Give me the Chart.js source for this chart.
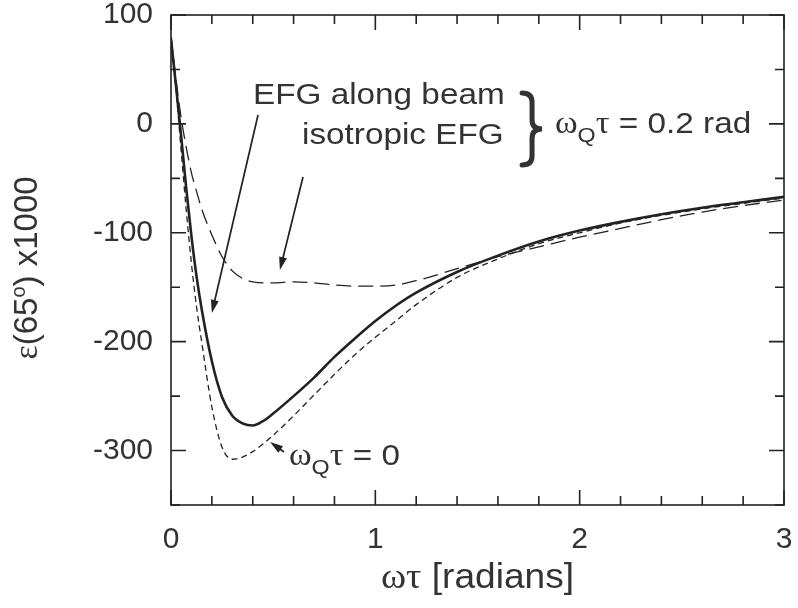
<!DOCTYPE html>
<html>
<head>
<meta charset="utf-8">
<title>Anisotropy vs ωτ</title>
<script src="https://cdn.jsdelivr.net/npm/chart.js@4.4.1/dist/chart.umd.min.js"></script>
<style>
    html, body { margin: 0; padding: 0; background: #fff; }
    #wrap { width: 798px; height: 608px; }
</style>
</head>
<body>
<div id="wrap"><canvas id="chart" width="798" height="608"></canvas></div>
<script>
// Sample positions along ωτ (radians), shared by the three curves
const omegaTau = [0, 0.025, 0.05, 0.075, 0.1, 0.125, 0.15, 0.2, 0.25, 0.3, 0.35, 0.4, 0.45, 0.5, 0.6, 0.7,
    0.8, 0.9, 1.0, 1.1, 1.2, 1.4, 1.6, 1.8, 2.0, 2.2, 2.4, 2.6, 2.8, 3.0];

// ε(65°) x1000, EFG along beam, ωQτ = 0.2 rad (solid)
const efgAlongBeam = [78, 34, -12, -60, -103, -140, -170, -218, -251, -268, -275, -277, -273, -266, -250, -233,
    -214, -197, -181, -167, -155, -136, -121, -108, -98, -90, -83, -77, -72, -67];

// isotropic EFG, ωQτ = 0.2 rad (long dashes)
const isotropicEfg = [80, 40, 5, -22, -45, -62, -78, -102, -122, -135, -142, -145, -146, -146, -145, -146,
    -148, -149, -149, -148, -144, -133, -122, -113, -104, -96, -88, -81, -75, -70];

// no quadrupole interaction, ωQτ = 0 (short dashes)
const noQuadrupole = [80, 30, -25, -80, -128, -168, -200, -260, -297, -308, -306, -301, -294, -286, -268, -249,
    -230, -212, -196, -181, -166, -141, -124, -110, -100, -91, -84, -78, -73, -68];

const xTickValues = [0, 1, 2, 3];
const yTickValues = [-300, -200, -100, 0, 100];
const xRange = [0, 3];
const yRange = [-350, 100];
const xMinorStep = 0.2;
const yMinorStep = 50;

const SANS = 'Liberation Sans, Arial, sans-serif';
const SERIF = 'Liberation Serif, Times New Roman, serif';
const INK = '#222';
const TEXT = '#333';

function toPoints(values) {
    return values.map((y, i) => ({ x: omegaTau[i], y: y }));
}

// Text pieces: sans for words/digits, serif for the Greek symbols
function run(text, size, family, dy) {
    return { text: text, size: size, family: family || SANS, dy: dy || 0 };
}

function omegaQTau(rest) {
    return [run('ω', 31, SERIF), run('Q', 21, SANS, 9), run('τ', 31, SERIF), run(rest, 30)];
}

// Annotations are placed in data coordinates
const notes = [
    { x: 0.401, y: 18.3, runs: [run('EFG along beam', 30)] },
    { x: 0.641, y: -18.5, runs: [run('isotropic EFG', 30)] },
    { x: 1.879, y: -8.4, runs: omegaQTau(' = 0.2 rad') },
    { x: 0.577, y: -313.3, runs: omegaQTau(' = 0') }
];

const arrows = [
    { from: [0.426, 8.2], to: [0.2, -173.6] },
    { from: [0.646, -48.8], to: [0.533, -134.2] },
    { from: [0.553, -301.3], to: [0.485, -292.1] }
];

const brace = { x0: 1.718, x1: 1.816, yTop: 28.4, yBottom: -37.7 };

function runsWidth(ctx, runs) {
    let w = 0;
    runs.forEach(r => {
        ctx.font = r.size + 'px ' + r.family;
        w += ctx.measureText(r.text).width;
    });
    return w;
}

function drawRuns(ctx, runs, x, y, stretch) {
    ctx.save();
    ctx.translate(x, y);
    ctx.scale(stretch, 1);
    ctx.fillStyle = TEXT;
    ctx.textBaseline = 'alphabetic';
    ctx.textAlign = 'left';
    let cx = 0;
    runs.forEach(r => {
        ctx.font = r.size + 'px ' + r.family;
        ctx.fillText(r.text, cx, r.dy);
        cx += ctx.measureText(r.text).width;
    });
    ctx.restore();
}

function drawArrow(ctx, x1, y1, x2, y2) {
    const ang = Math.atan2(y2 - y1, x2 - x1);
    const headLen = 13, headHalf = 4;
    ctx.beginPath();
    ctx.moveTo(x1, y1);
    ctx.lineTo(x2 - Math.cos(ang) * headLen * 0.8, y2 - Math.sin(ang) * headLen * 0.8);
    ctx.stroke();
    ctx.beginPath();
    ctx.moveTo(x2, y2);
    ctx.lineTo(x2 - Math.cos(ang) * headLen - Math.sin(ang) * headHalf,
               y2 - Math.sin(ang) * headLen + Math.cos(ang) * headHalf);
    ctx.lineTo(x2 - Math.cos(ang) * headLen + Math.sin(ang) * headHalf,
               y2 - Math.sin(ang) * headLen - Math.cos(ang) * headHalf);
    ctx.closePath();
    ctx.fill();
}

// Frame with inward ticks on all four sides, plus notes and axis titles
const decorPlugin = {
    id: 'decor',
    afterDraw(chart) {
        const ctx = chart.ctx;
        const area = chart.chartArea;
        const xs = chart.scales.x;
        const ys = chart.scales.y;
        const major = 15, minor = 9;

        ctx.save();
        ctx.strokeStyle = INK;
        ctx.fillStyle = INK;
        ctx.lineWidth = 1.6;
        ctx.strokeRect(area.left, area.top, area.right - area.left, area.bottom - area.top);

        ctx.beginPath();
        for (let v = xRange[0]; v <= xRange[1] + 1e-9; v += xMinorStep) {
            const val = Math.round(v * 10) / 10;
            const len = xTickValues.includes(val) ? major : minor;
            const px = xs.getPixelForValue(val);
            ctx.moveTo(px, area.bottom); ctx.lineTo(px, area.bottom - len);
            ctx.moveTo(px, area.top); ctx.lineTo(px, area.top + len);
        }
        for (let v = yRange[0]; v <= yRange[1]; v += yMinorStep) {
            const len = yTickValues.includes(v) ? major : minor;
            const py = ys.getPixelForValue(v);
            ctx.moveTo(area.left, py); ctx.lineTo(area.left + len, py);
            ctx.moveTo(area.right, py); ctx.lineTo(area.right - len, py);
        }
        ctx.stroke();

        // arrows pointing at the curves
        ctx.lineWidth = 1.7;
        arrows.forEach(a => {
            drawArrow(ctx,
                xs.getPixelForValue(a.from[0]), ys.getPixelForValue(a.from[1]),
                xs.getPixelForValue(a.to[0]), ys.getPixelForValue(a.to[1]));
        });

        // brace grouping the two ωQτ = 0.2 rad labels
        const bl = xs.getPixelForValue(brace.x0), br = xs.getPixelForValue(brace.x1);
        const bt = ys.getPixelForValue(brace.yTop), bb = ys.getPixelForValue(brace.yBottom);
        const bm = (bl + br) / 2, bym = (bt + bb) / 2;
        ctx.lineWidth = 5;
        ctx.lineCap = 'round';
        ctx.strokeStyle = '#333';
        ctx.beginPath();
        ctx.moveTo(bl, bt);
        ctx.quadraticCurveTo(bm, bt, bm, bt + 9);
        ctx.lineTo(bm, bym - 9);
        ctx.quadraticCurveTo(bm, bym, br, bym);
        ctx.quadraticCurveTo(bm, bym, bm, bym + 9);
        ctx.lineTo(bm, bb - 9);
        ctx.quadraticCurveTo(bm, bb, bl, bb);
        ctx.stroke();
        ctx.restore();

        notes.forEach(n => {
            drawRuns(ctx, n.runs, xs.getPixelForValue(n.x), ys.getPixelForValue(n.y), 1.11);
        });

        // x axis title
        const xTitle = [run('ωτ', 36, SERIF), run(' [radians]', 35)];
        const xw = runsWidth(ctx, xTitle) * 1.06;
        drawRuns(ctx, xTitle, (area.left + area.right) / 2 - xw / 2, area.bottom + 83, 1.06);

        // y axis title, rotated
        const yTitle = [run('ε', 34, SERIF), run('(65', 33), run('o', 20, SANS, -12), run(') x1000', 33)];
        const yw = runsWidth(ctx, yTitle);
        ctx.save();
        ctx.translate(37, (area.top + area.bottom) / 2 + 8);
        ctx.rotate(-Math.PI / 2);
        drawRuns(ctx, yTitle, -yw / 2, 0, 1);
        ctx.restore();
    }
};

const ctx = document.getElementById('chart').getContext('2d');

new Chart(ctx, {
    type: 'line',
    data: {
        datasets: [
            {
                label: 'EFG along beam',
                data: toPoints(efgAlongBeam),
                borderColor: INK,
                borderWidth: 2.6,
                pointRadius: 0,
                cubicInterpolationMode: 'monotone',
                fill: false
            },
            {
                label: 'isotropic EFG',
                data: toPoints(isotropicEfg),
                borderColor: INK,
                borderWidth: 1.3,
                borderDash: [15, 7],
                pointRadius: 0,
                cubicInterpolationMode: 'monotone',
                fill: false
            },
            {
                label: 'ωQτ = 0',
                data: toPoints(noQuadrupole),
                borderColor: INK,
                borderWidth: 1.3,
                borderDash: [6, 4],
                pointRadius: 0,
                cubicInterpolationMode: 'monotone',
                fill: false
            }
        ]
    },
    options: {
        responsive: false,
        animation: false,
        layout: { padding: { top: 15, right: 14, left: 0, bottom: 0 } },
        plugins: {
            legend: { display: false },
            tooltip: { enabled: false }
        },
        scales: {
            x: {
                type: 'linear',
                min: xRange[0],
                max: xRange[1],
                grid: { display: false, drawTicks: false },
                border: { display: false },
                ticks: {
                    font: { family: SANS, size: 30 },
                    color: TEXT,
                    padding: 17,
                    autoSkip: false,
                    maxRotation: 0
                },
                afterBuildTicks: scale => {
                    scale.ticks = xTickValues.map(v => ({ value: v }));
                },
                afterFit: scale => {
                    scale.height = 103;
                    scale.paddingLeft = 0;
                    scale.paddingRight = 0;
                }
            },
            y: {
                type: 'linear',
                min: yRange[0],
                max: yRange[1],
                grid: { display: false, drawTicks: false },
                border: { display: false },
                ticks: {
                    font: { family: SANS, size: 30 },
                    color: TEXT,
                    padding: 18,
                    autoSkip: false
                },
                afterBuildTicks: scale => {
                    scale.ticks = yTickValues.map(v => ({ value: v }));
                },
                afterFit: scale => {
                    scale.width = 171;
                    scale.paddingTop = 0;
                    scale.paddingBottom = 0;
                }
            }
        }
    },
    plugins: [decorPlugin]
});
</script>
</body>
</html>
